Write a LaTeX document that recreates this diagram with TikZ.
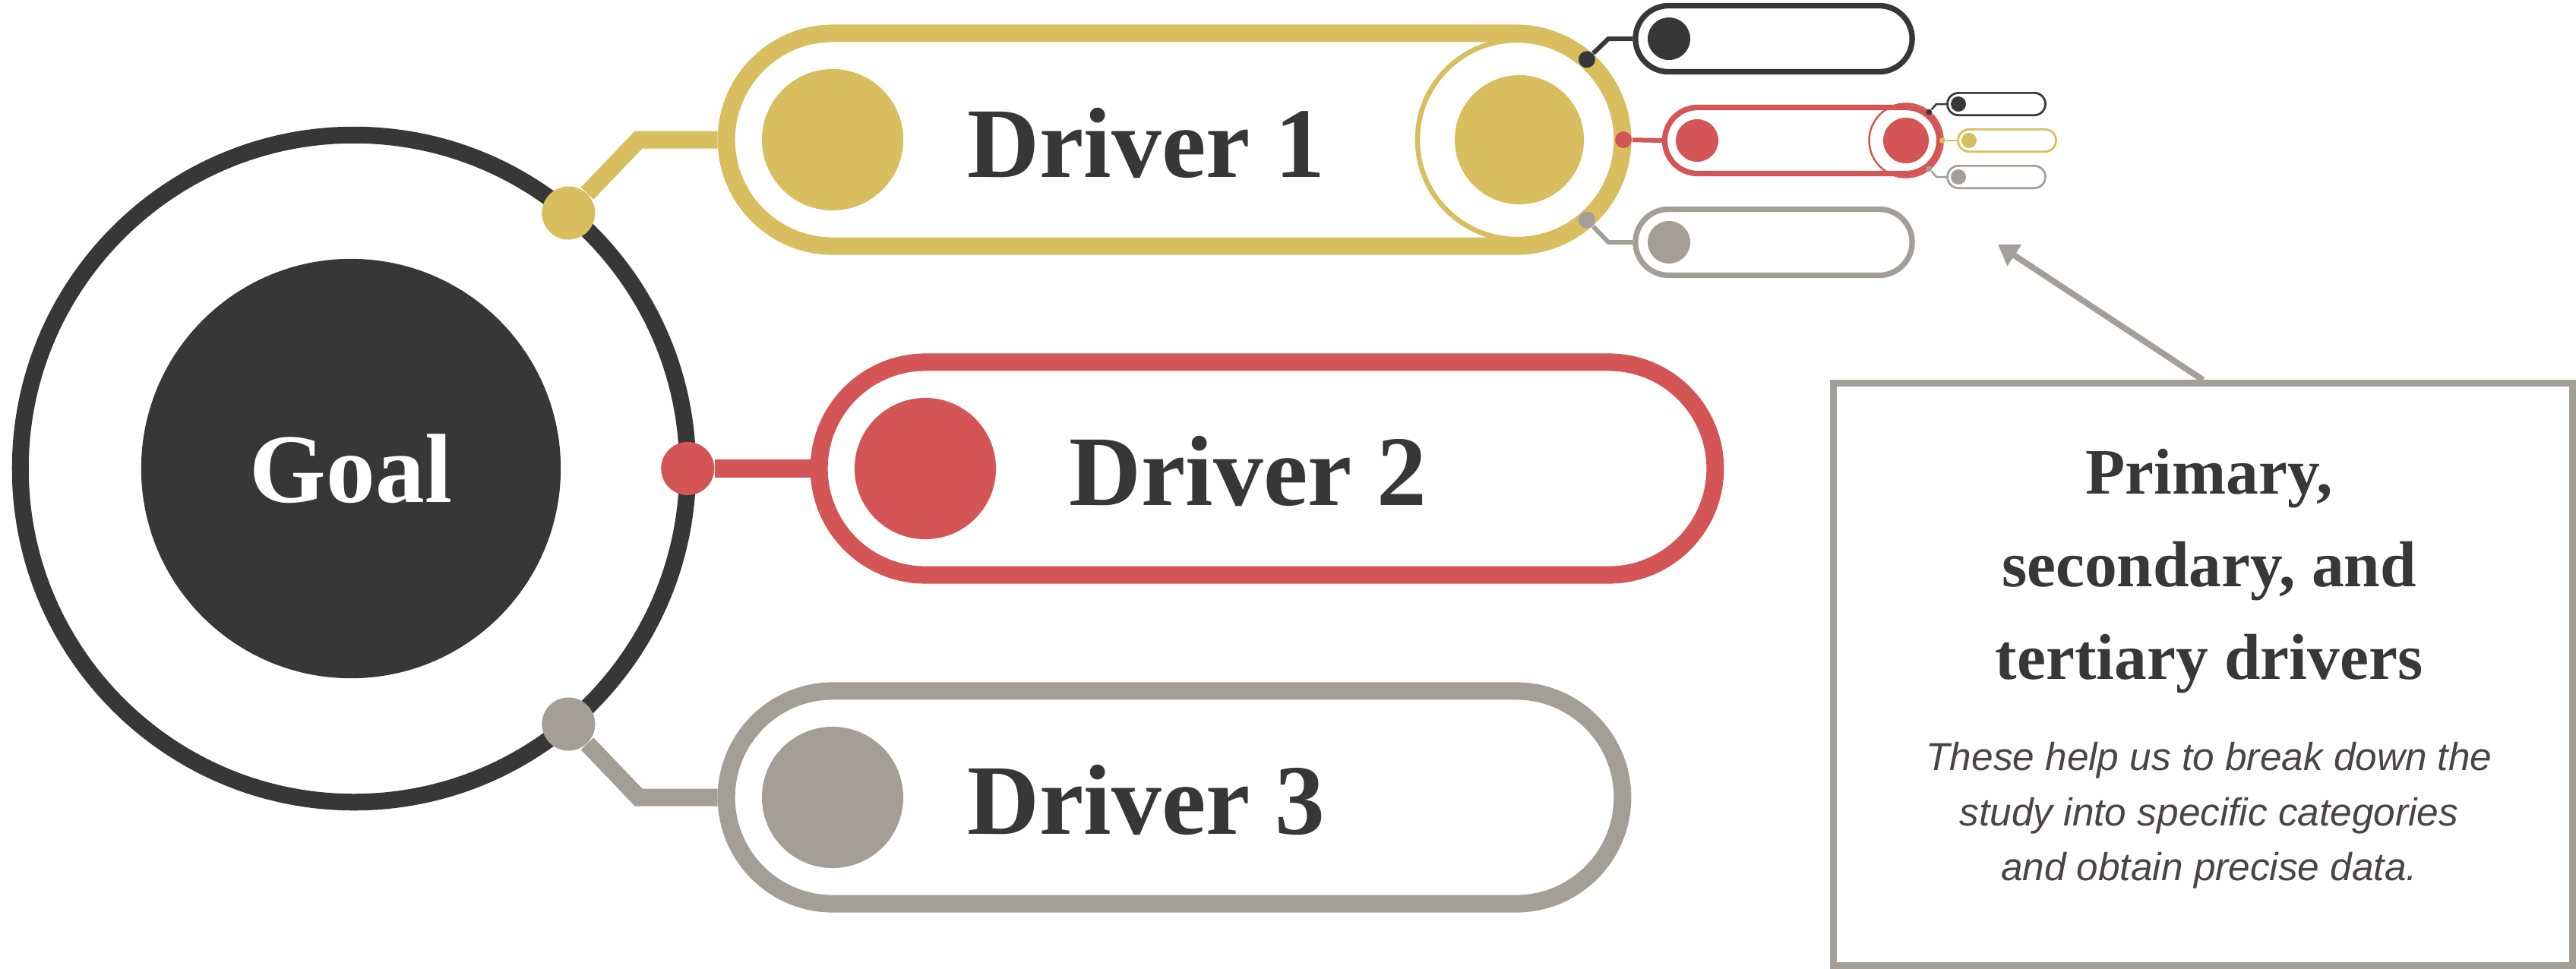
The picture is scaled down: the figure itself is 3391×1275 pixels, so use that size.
\documentclass[tikz,border=0pt]{standalone}
\usepackage{fontspec}
\setmainfont{Liberation Serif}
\newfontfamily\notefont{Liberation Sans}
\usetikzlibrary{shapes.misc,calc,arrows.meta}
\definecolor{ink}{HTML}{373737}
\definecolor{mustard}{HTML}{D8BE5F}
\definecolor{coral}{HTML}{D45555}
\definecolor{stone}{HTML}{A39E98}
\definecolor{prose}{HTML}{4B4447}
\tikzset{
  pill/.style={rounded rectangle,fill=white,inner sep=0pt},
  bead/.style={circle,inner sep=0pt,minimum size=#1},
  hoop/.style={circle,inner sep=0pt,minimum size=#1},
  drvtext/.style={anchor=base west,text=ink,font=\fontsize{37.4}{45}\selectfont\bfseries}
}
\begin{document}
\begin{tikzpicture}[x=0.01cm,y=-0.01cm]
\useasboundingbox (0,0) rectangle (3391,1275);
\node[hoop=8.78cm,draw=ink,line width=0.22cm] (orbit) at (466,617) {};
\node[bead=5.52cm,fill=ink,text=white,font=\fontsize{36.8}{44}\selectfont\bfseries] (goal) at (462,617) {Goal};
\node[bead=0.7cm,fill=mustard] (k1) at ($(orbit.center)+(50:4.39cm)$) {};
\node[bead=0.7cm,fill=coral] (k2) at ($(orbit.center)+(0:4.39cm)$) {};
\node[bead=0.7cm,fill=stone] (k3) at ($(orbit.center)+(-50:4.39cm)$) {};
\node[pill,draw=mustard,line width=0.23cm,minimum width=11.79cm,minimum height=2.8cm] (d1) at (1546,184) {};
\node[pill,draw=coral,line width=0.23cm,minimum width=11.79cm,minimum height=2.8cm] (d2) at (1668,617) {};
\node[pill,draw=stone,line width=0.23cm,minimum width=11.79cm,minimum height=2.8cm] (d3) at (1546,1050) {};
\node[bead=1.86cm,fill=mustard] (d1b) at (1096,184) {};
\node[bead=1.86cm,fill=coral] (d2b) at (1218,617) {};
\node[bead=1.86cm,fill=stone] (d3b) at (1096,1050) {};
\node[drvtext] (d1t) at (1261,233) {Driver 1};
\node[drvtext] (d2t) at (1395,665) {Driver 2};
\node[drvtext] (d3t) at (1261,1098) {Driver 3};
\draw[mustard,line width=0.23cm] (k1) -- ($(d1.west)+(-1.04cm,0)$) -- (d1.west);
\draw[coral,line width=0.24cm] (k2) -- (d2.west);
\draw[stone,line width=0.23cm] (k3) -- ($(d3.west)+(-1.04cm,0)$) -- (d3.west);
\node[hoop=2.62cm,draw=mustard,line width=0.065cm] (d1r) at (1997,184) {};
\node[bead=1.7cm,fill=mustard] (d1c) at (2000,184) {};
\node[bead=0.22cm,fill=ink] (j1) at ($(d1r.center)+(49:1.4cm)$) {};
\node[bead=0.22cm,fill=coral] (j2) at ($(d1r.center)+(0:1.4cm)$) {};
\node[bead=0.22cm,fill=stone] (j3) at ($(d1r.center)+(-49:1.4cm)$) {};
\node[pill,draw=ink,line width=0.073cm,minimum width=3.64cm,minimum height=0.87cm] (s1) at (2335,51) {};
\node[pill,draw=coral,line width=0.073cm,minimum width=3.61cm,minimum height=0.87cm] (s2) at (2372,185) {};
\node[pill,draw=stone,line width=0.073cm,minimum width=3.64cm,minimum height=0.87cm] (s3) at (2335,319) {};
\node[bead=0.56cm,fill=ink] (s1b) at (2197,51) {};
\node[bead=0.56cm,fill=coral] (s2b) at (2234,185) {};
\node[bead=0.56cm,fill=stone] (s3b) at (2197,319) {};
\draw[ink,line width=0.06cm] (j1) -- ($(s1.west)+(-0.32cm,0)$) -- (s1.west);
\draw[coral,line width=0.06cm] (j2) -- (s2.west);
\draw[stone,line width=0.06cm] (j3) -- ($(s3.west)+(-0.32cm,0)$) -- (s3.west);
\node[hoop=0.97cm,draw=coral,line width=0.025cm] (s2r) at (2509,185) {};
\node[bead=0.6cm,fill=coral] (s2c) at (2509,185) {};
\node[bead=0.08cm,fill=ink] (i1) at ($(s2r.center)+(51:0.48cm)$) {};
\node[bead=0.08cm,fill=mustard] (i2) at ($(s2r.center)+(0:0.48cm)$) {};
\node[bead=0.08cm,fill=stone] (i3) at ($(s2r.center)+(-51:0.48cm)$) {};
\node[pill,draw=ink,line width=0.027cm,minimum width=1.29cm,minimum height=0.293cm] (t1) at (2628,137) {};
\node[pill,draw=mustard,line width=0.027cm,minimum width=1.29cm,minimum height=0.293cm] (t2) at (2642,185) {};
\node[pill,draw=stone,line width=0.027cm,minimum width=1.29cm,minimum height=0.293cm] (t3) at (2628,233) {};
\node[bead=0.2cm,fill=ink] (t1b) at (2578,137) {};
\node[bead=0.2cm,fill=mustard] (t2b) at (2592,185) {};
\node[bead=0.2cm,fill=stone] (t3b) at (2578,233) {};
\draw[ink,line width=0.025cm] (i1) -- ($(t1.west)+(-0.13cm,0)$) -- (t1.west);
\draw[mustard,line width=0.025cm] (i2) -- (t2.west);
\draw[stone,line width=0.025cm] (i3) -- ($(t3.west)+(-0.13cm,0)$) -- (t3.west);
\node[draw=stone,line width=0.09cm,minimum width=9.72cm,minimum height=7.66cm] (note) at (2900,888) {};
\node[text=ink,align=center,font=\fontsize{24.3}{34.6}\selectfont\bfseries] (head) at (2908,752) {Primary,\\secondary, and\\tertiary drivers};
\node[text=prose,align=center,font=\notefont\itshape\fontsize{14.6}{20.6}\selectfont] (blurb) at (2908,1074) {These help us to break down the\\study into specific categories\\and obtain precise data.};
\coordinate (aim) at (2630,322);
\draw[stone,line width=0.08cm,-{Triangle[length=0.26cm,width=0.32cm]}] (note.north) -- (aim);
\end{tikzpicture}
\end{document}
